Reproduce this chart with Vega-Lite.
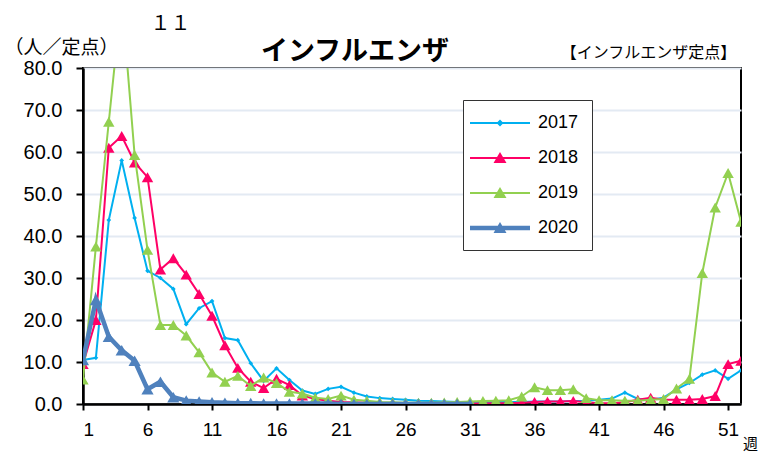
{
  "$schema": "https://vega.github.io/schema/vega-lite/v6.json",
  "width": 658,
  "height": 336,
  "autosize": {"type": "none"},
  "padding": {"left": 83, "top": 68, "right": 21, "bottom": 50},
  "background": "white",
  "title": {
    "text": "インフルエンザ",
    "font": "Noto Sans CJK JP",
    "fontSize": 27,
    "fontWeight": "bold",
    "color": "black",
    "anchor": "middle",
    "dx": -57,
    "dy": 75,
    "offset": 4
  },
  "config": {
    "view": {"stroke": "black", "strokeWidth": 2},
    "axis": {"labelFont": "Liberation Sans", "titleFont": "Noto Sans CJK JP", "labelColor": "black", "titleColor": "black"}
  },
  "data": {"values": [
    {"week":1,"year":"2017","value":10.5},{"week":2,"year":"2017","value":11},{"week":3,"year":"2017","value":43.8},{"week":4,"year":"2017","value":58},{"week":5,"year":"2017","value":44.3},{"week":6,"year":"2017","value":31.7},{"week":7,"year":"2017","value":30},{"week":8,"year":"2017","value":27.4},{"week":9,"year":"2017","value":19},{"week":10,"year":"2017","value":22.8},{"week":11,"year":"2017","value":24.5},{"week":12,"year":"2017","value":15.7},{"week":13,"year":"2017","value":15.2},{"week":14,"year":"2017","value":9.7},{"week":15,"year":"2017","value":5.5},{"week":16,"year":"2017","value":8.5},{"week":17,"year":"2017","value":5.7},{"week":18,"year":"2017","value":3.2},{"week":19,"year":"2017","value":2.4},{"week":20,"year":"2017","value":3.6},{"week":21,"year":"2017","value":4.1},{"week":22,"year":"2017","value":2.7},{"week":23,"year":"2017","value":1.8},{"week":24,"year":"2017","value":1.4},{"week":25,"year":"2017","value":1.2},{"week":26,"year":"2017","value":1.0},{"week":27,"year":"2017","value":0.8},{"week":28,"year":"2017","value":0.7},{"week":29,"year":"2017","value":0.6},{"week":30,"year":"2017","value":0.5},{"week":31,"year":"2017","value":0.4},{"week":32,"year":"2017","value":0.4},{"week":33,"year":"2017","value":0.5},{"week":34,"year":"2017","value":0.5},{"week":35,"year":"2017","value":0.5},{"week":36,"year":"2017","value":0.6},{"week":37,"year":"2017","value":0.6},{"week":38,"year":"2017","value":0.6},{"week":39,"year":"2017","value":0.7},{"week":40,"year":"2017","value":0.8},{"week":41,"year":"2017","value":1.0},{"week":42,"year":"2017","value":1.3},{"week":43,"year":"2017","value":2.7},{"week":44,"year":"2017","value":1.2},{"week":45,"year":"2017","value":1.0},{"week":46,"year":"2017","value":1.5},{"week":47,"year":"2017","value":3.5},{"week":48,"year":"2017","value":5.0},{"week":49,"year":"2017","value":7.0},{"week":50,"year":"2017","value":8.0},{"week":51,"year":"2017","value":6.0},{"week":52,"year":"2017","value":8.0},
    {"week":1,"year":"2018","value":9.5},{"week":2,"year":"2018","value":20},{"week":3,"year":"2018","value":61},{"week":4,"year":"2018","value":63.8},{"week":5,"year":"2018","value":57.5},{"week":6,"year":"2018","value":54},{"week":7,"year":"2018","value":32},{"week":8,"year":"2018","value":34.7},{"week":9,"year":"2018","value":30.8},{"week":10,"year":"2018","value":26.2},{"week":11,"year":"2018","value":21},{"week":12,"year":"2018","value":14},{"week":13,"year":"2018","value":8.6},{"week":14,"year":"2018","value":5.3},{"week":15,"year":"2018","value":3.8},{"week":16,"year":"2018","value":6},{"week":17,"year":"2018","value":4.5},{"week":18,"year":"2018","value":2},{"week":19,"year":"2018","value":1.2},{"week":20,"year":"2018","value":0.8},{"week":21,"year":"2018","value":0.5},{"week":22,"year":"2018","value":0.4},{"week":23,"year":"2018","value":0.3},{"week":24,"year":"2018","value":0.2},{"week":25,"year":"2018","value":0.2},{"week":26,"year":"2018","value":0.1},{"week":27,"year":"2018","value":0.1},{"week":28,"year":"2018","value":0.1},{"week":29,"year":"2018","value":0.1},{"week":30,"year":"2018","value":0.1},{"week":31,"year":"2018","value":0.1},{"week":32,"year":"2018","value":0.1},{"week":33,"year":"2018","value":0.2},{"week":34,"year":"2018","value":0.2},{"week":35,"year":"2018","value":0.3},{"week":36,"year":"2018","value":0.5},{"week":37,"year":"2018","value":0.6},{"week":38,"year":"2018","value":0.6},{"week":39,"year":"2018","value":0.7},{"week":40,"year":"2018","value":0.4},{"week":41,"year":"2018","value":0.2},{"week":42,"year":"2018","value":0.2},{"week":43,"year":"2018","value":0.4},{"week":44,"year":"2018","value":1.0},{"week":45,"year":"2018","value":1.5},{"week":46,"year":"2018","value":1.0},{"week":47,"year":"2018","value":1.0},{"week":48,"year":"2018","value":1.0},{"week":49,"year":"2018","value":1.2},{"week":50,"year":"2018","value":1.9},{"week":51,"year":"2018","value":9.5},{"week":52,"year":"2018","value":10.3},
    {"week":1,"year":"2019","value":5.8},{"week":2,"year":"2019","value":37.5},{"week":3,"year":"2019","value":67.2},{"week":4,"year":"2019","value":97},{"week":5,"year":"2019","value":59.3},{"week":6,"year":"2019","value":36.7},{"week":7,"year":"2019","value":18.8},{"week":8,"year":"2019","value":18.8},{"week":9,"year":"2019","value":16.3},{"week":10,"year":"2019","value":12.3},{"week":11,"year":"2019","value":7.5},{"week":12,"year":"2019","value":5.3},{"week":13,"year":"2019","value":6.7},{"week":14,"year":"2019","value":4.3},{"week":15,"year":"2019","value":6.3},{"week":16,"year":"2019","value":5.0},{"week":17,"year":"2019","value":2.9},{"week":18,"year":"2019","value":2.5},{"week":19,"year":"2019","value":1.5},{"week":20,"year":"2019","value":1.2},{"week":21,"year":"2019","value":2.0},{"week":22,"year":"2019","value":1.0},{"week":23,"year":"2019","value":0.8},{"week":24,"year":"2019","value":0.5},{"week":25,"year":"2019","value":0.4},{"week":26,"year":"2019","value":0.3},{"week":27,"year":"2019","value":0.3},{"week":28,"year":"2019","value":0.3},{"week":29,"year":"2019","value":0.4},{"week":30,"year":"2019","value":0.5},{"week":31,"year":"2019","value":0.6},{"week":32,"year":"2019","value":0.7},{"week":33,"year":"2019","value":0.8},{"week":34,"year":"2019","value":0.9},{"week":35,"year":"2019","value":1.8},{"week":36,"year":"2019","value":4.0},{"week":37,"year":"2019","value":3.3},{"week":38,"year":"2019","value":3.3},{"week":39,"year":"2019","value":3.5},{"week":40,"year":"2019","value":1.4},{"week":41,"year":"2019","value":0.9},{"week":42,"year":"2019","value":0.9},{"week":43,"year":"2019","value":0.8},{"week":44,"year":"2019","value":0.8},{"week":45,"year":"2019","value":1.0},{"week":46,"year":"2019","value":1.2},{"week":47,"year":"2019","value":3.7},{"week":48,"year":"2019","value":6.0},{"week":49,"year":"2019","value":31.2},{"week":50,"year":"2019","value":46.8},{"week":51,"year":"2019","value":55.0},{"week":52,"year":"2019","value":43.4},
    {"week":1,"year":"2020","value":10.5},{"week":2,"year":"2020","value":24.8},{"week":3,"year":"2020","value":16.0},{"week":4,"year":"2020","value":12.8},{"week":5,"year":"2020","value":10.3},{"week":6,"year":"2020","value":3.5},{"week":7,"year":"2020","value":5.3},{"week":8,"year":"2020","value":1.6},{"week":9,"year":"2020","value":0.8},{"week":10,"year":"2020","value":0.6},{"week":11,"year":"2020","value":0.4},{"week":12,"year":"2020","value":0.3},{"week":13,"year":"2020","value":0.2},{"week":14,"year":"2020","value":0.2},{"week":15,"year":"2020","value":0.1},{"week":16,"year":"2020","value":0.1},{"week":17,"year":"2020","value":0.1},{"week":18,"year":"2020","value":0.1},{"week":19,"year":"2020","value":0.1},{"week":20,"year":"2020","value":0.1},{"week":21,"year":"2020","value":0},{"week":22,"year":"2020","value":0},{"week":23,"year":"2020","value":0},{"week":24,"year":"2020","value":0},{"week":25,"year":"2020","value":0},{"week":26,"year":"2020","value":0},{"week":27,"year":"2020","value":0},{"week":28,"year":"2020","value":0},{"week":29,"year":"2020","value":0},{"week":30,"year":"2020","value":0},{"week":31,"year":"2020","value":0}
  ]},
  "resolve": {"axis": {"x": "independent", "y": "independent"}},
  "layer": [
    {
      "encoding": {
        "x": {"field": "week", "type": "quantitative",
          "scale": {"domain": [1, 52], "nice": false, "zero": false},
          "axis": {"orient": "bottom", "values": [1,6,11,16,21,26,31,36,41,46,51], "labelFontSize": 19, "labelPadding": 10,
            "domainColor": "black", "domainWidth": 2.5, "tickColor": "black", "tickWidth": 2, "tickSize": 6, "grid": false,
            "title": "週", "titleFontSize": 15, "titleFontWeight": "normal", "titleX": 667, "titleY": 39, "titleAlign": "center", "titleBaseline": "middle", "titleAngle": 0}},
        "y": {"field": "value", "type": "quantitative",
          "scale": {"domain": [0, 80], "nice": false},
          "axis": {"orient": "left", "values": [0,10,20,30,40,50,60,70,80], "format": ".1f", "labelFontSize": 20, "labelPadding": 14,
            "domainColor": "black", "domainWidth": 2.5, "tickColor": "black", "tickWidth": 2, "tickSize": 7,
            "grid": true, "gridColor": "#E3EAF3", "gridWidth": 2,
            "title": "（人／定点）", "titleFontSize": 19, "titleFontWeight": "normal", "titleAngle": 0, "titleX": -22, "titleY": -21, "titleAlign": "center", "titleBaseline": "middle"}},
        "color": {"field": "year", "type": "nominal",
          "scale": {"domain": ["2017","2018","2019","2020"], "range": ["#00B0F0","#FF0066","#92D050","#4F81BD"]},
          "legend": {"title": null, "orient": "none", "legendX": 380, "legendY": 32, "padding": 13, "strokeColor": "#333333", "fillColor": "white",
            "labelFont": "Liberation Sans", "labelFontSize": 18, "labelColor": "black", "rowPadding": 16, "symbolSize": 400, "symbolOffset": 14, "labelOffset": 28, "symbolStrokeWidth": 0, "symbolOpacity": 1}}
      },
      "layer": [
        {"transform": [{"filter": "datum.year == '2017'"}],
         "layer": [
           {"mark": {"type": "line", "strokeWidth": 2, "clip": true}},
           {"mark": {"type": "point", "shape": "diamond", "filled": true, "opacity": 1, "size": 22, "clip": true}}
         ]},
        {"transform": [{"filter": "datum.year == '2018'"}],
         "layer": [
           {"mark": {"type": "line", "strokeWidth": 2, "clip": true}},
           {"mark": {"type": "point", "shape": "triangle-up", "filled": true, "opacity": 1, "size": 130, "clip": true}}
         ]},
        {"transform": [{"filter": "datum.year == '2019'"}],
         "layer": [
           {"mark": {"type": "line", "strokeWidth": 2, "clip": true}},
           {"mark": {"type": "point", "shape": "triangle-up", "filled": true, "opacity": 1, "size": 130, "clip": true}}
         ]},
        {"transform": [{"filter": "datum.year == '2020'"}],
         "layer": [
           {"mark": {"type": "line", "strokeWidth": 4.5, "clip": true}},
           {"mark": {"type": "point", "shape": "triangle-up", "filled": true, "opacity": 1, "size": 150, "clip": true}}
         ]}
      ]
    },
    {
      "mark": {"type": "point", "opacity": 0, "filled": true},
      "encoding": {
        "x": {"field": "week", "type": "quantitative", "scale": {"domain": [1, 52], "nice": false, "zero": false},
          "axis": {"orient": "top", "labels": false, "ticks": false, "domain": false, "grid": false,
            "title": "１１", "titleFontSize": 20, "titleFontWeight": "normal", "titleX": 87, "titleY": -45, "titleAlign": "center", "titleBaseline": "middle", "titleAngle": 0}},
        "y": {"field": "value", "type": "quantitative", "scale": {"domain": [0, 80], "nice": false},
          "axis": {"orient": "right", "labels": false, "ticks": false, "domain": false, "grid": false,
            "title": "【インフルエンザ定点】", "titleFontSize": 16, "titleFontWeight": "normal", "titleX": -93, "titleY": -16, "titleAlign": "center", "titleBaseline": "middle", "titleAngle": 0}},
        "color": {"field": "year", "type": "nominal",
          "scale": {"domain": ["2017","2018","2019","2020"], "range": ["#00B0F0","#FF0066","#92D050","#4F81BD"]},
          "legend": {"title": null, "orient": "none", "legendX": 380, "legendY": 32, "padding": 13, "strokeColor": "#333333", "fillColor": "white",
            "labelFont": "Liberation Sans", "labelFontSize": 18, "labelColor": "black", "rowPadding": 16, "symbolSize": 400, "symbolOffset": 14, "labelOffset": 28, "symbolStrokeWidth": 0, "symbolOpacity": 1}},
        "shape": {"field": "year", "type": "nominal",
          "scale": {"domain": ["2017","2018","2019","2020"], "range": [
            "M-3,-0.1H3V0.1H-3Z M0,-0.35L0.35,0L0,0.35L-0.35,0Z",
            "M-3,-0.1H3V0.1H-3Z M0,-0.6L0.65,0.5L-0.65,0.5Z",
            "M-3,-0.1H3V0.1H-3Z M0,-0.6L0.65,0.5L-0.65,0.5Z",
            "M-3,-0.22H3V0.22H-3Z M0,-0.6L0.65,0.5L-0.65,0.5Z"]},
          "legend": {"title": null, "orient": "none", "legendX": 380, "legendY": 32, "padding": 13, "strokeColor": "#333333", "fillColor": "white",
            "labelFont": "Liberation Sans", "labelFontSize": 18, "labelColor": "black", "rowPadding": 16, "symbolSize": 400, "symbolOffset": 14, "labelOffset": 28, "symbolStrokeWidth": 0, "symbolOpacity": 1}}
      }
    }
  ]
}
